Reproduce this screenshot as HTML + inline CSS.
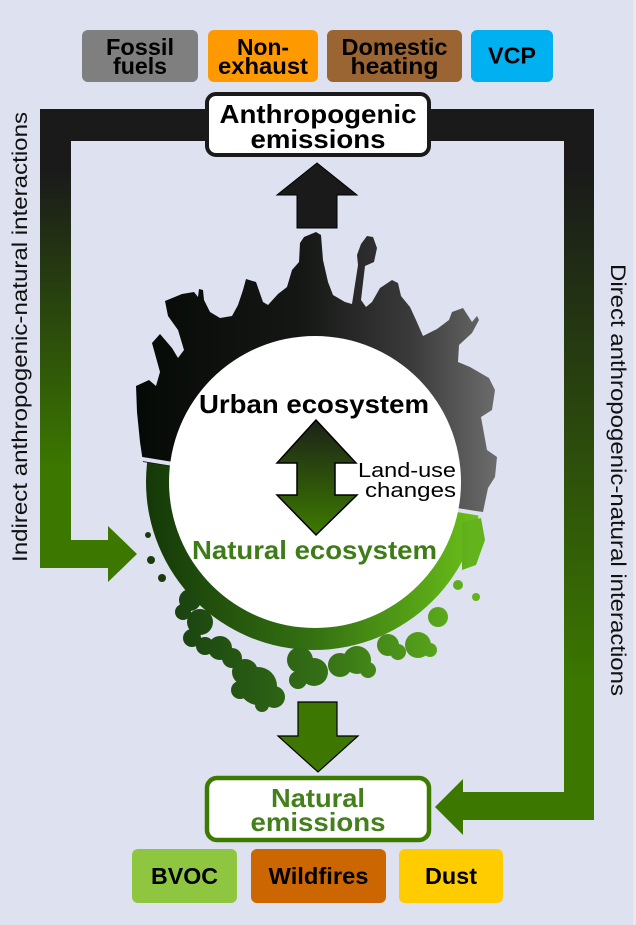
<!DOCTYPE html>
<html><head><meta charset="utf-8">
<style>
html,body{margin:0;padding:0;background:#dee1ef;}
svg{display:block;}
text{font-family:"Liberation Sans",Arial,sans-serif;}
</style></head><body>
<svg width="636" height="925" viewBox="0 0 636 925" xmlns="http://www.w3.org/2000/svg">
<defs>
<linearGradient id="gl" gradientUnits="userSpaceOnUse" x1="0" y1="170" x2="0" y2="470">
<stop offset="0" stop-color="#1a1a1a"/><stop offset="1" stop-color="#3c7800"/></linearGradient>
<linearGradient id="gr" gradientUnits="userSpaceOnUse" x1="0" y1="170" x2="0" y2="690">
<stop offset="0" stop-color="#1a1a1a"/><stop offset="1" stop-color="#3c7800"/></linearGradient>
<linearGradient id="city" gradientUnits="userSpaceOnUse" x1="140" y1="0" x2="500" y2="0">
<stop offset="0" stop-color="#060a06"/><stop offset="0.45" stop-color="#151715"/><stop offset="0.75" stop-color="#3a3a3a"/><stop offset="1" stop-color="#6e6e6e"/></linearGradient>
<linearGradient id="grn" gradientUnits="userSpaceOnUse" x1="145" y1="0" x2="485" y2="0">
<stop offset="0" stop-color="#143808"/><stop offset="0.5" stop-color="#357212"/><stop offset="1" stop-color="#6cc21a"/></linearGradient>
<linearGradient id="tree" gradientUnits="userSpaceOnUse" x1="175" y1="0" x2="470" y2="0">
<stop offset="0" stop-color="#1a4210"/><stop offset="0.5" stop-color="#347016"/><stop offset="1" stop-color="#62b31c"/></linearGradient>
<linearGradient id="dbl" x1="0" y1="0" x2="0" y2="1">
<stop offset="0" stop-color="#1c2218"/><stop offset="1" stop-color="#3d7a00"/></linearGradient>
</defs>
<rect width="636" height="925" fill="#dee1ef"/>
<rect x="633" y="0" width="3" height="925" fill="#e8e9f2"/>

<!-- connectors -->
<path d="M40 109 H318 V141 H71 V540 H108 V526 L137 554 L108 582 V568 H40 Z" fill="url(#gl)"/>
<path d="M318 109 H594 V820 H463 V835 L435 807 L463 779 V792 H564 V141 H318 Z" fill="url(#gr)"/>

<!-- vertical labels -->
<text transform="translate(27,337) rotate(-90)" text-anchor="middle" font-size="21" fill="#111" textLength="450" lengthAdjust="spacingAndGlyphs">Indirect anthropogenic-natural interactions</text>
<text transform="translate(611,480) rotate(90)" text-anchor="middle" font-size="21" fill="#111" textLength="432" lengthAdjust="spacingAndGlyphs">Direct anthropogenic-natural interactions</text>

<!-- top category boxes -->
<rect x="82" y="30" width="116" height="52" rx="6" fill="#7f7f7f"/>
<rect x="208" y="30" width="110" height="52" rx="6" fill="#ff9900"/>
<rect x="327" y="30" width="135" height="52" rx="6" fill="#9a6532"/>
<rect x="471" y="30" width="82" height="52" rx="6" fill="#00b0f0"/>
<g font-size="23" font-weight="bold" fill="#000" text-anchor="middle">
<text x="140" y="55" textLength="68" lengthAdjust="spacingAndGlyphs">Fossil</text>
<text x="140" y="74" textLength="54" lengthAdjust="spacingAndGlyphs">fuels</text>
<text x="263" y="55" textLength="52" lengthAdjust="spacingAndGlyphs">Non-</text>
<text x="263" y="74" textLength="90" lengthAdjust="spacingAndGlyphs">exhaust</text>
<text x="394.5" y="55" textLength="106" lengthAdjust="spacingAndGlyphs">Domestic</text>
<text x="394.5" y="74" textLength="88" lengthAdjust="spacingAndGlyphs">heating</text>
<text x="512" y="63.5" textLength="48" lengthAdjust="spacingAndGlyphs">VCP</text>
</g>

<!-- anthropogenic box -->
<rect x="207" y="94" width="222" height="61" rx="9" fill="#fff" stroke="#1a1a1a" stroke-width="4"/>
<g font-size="26" font-weight="bold" fill="#000" text-anchor="middle">
<text x="318" y="123" textLength="197" lengthAdjust="spacingAndGlyphs">Anthropogenic</text>
<text x="318" y="148" textLength="135" lengthAdjust="spacingAndGlyphs">emissions</text>
</g>

<!-- up arrow -->
<path d="M297 228 V195 H277 L317 163 L357 195 H337 V228 Z" fill="#1a1a1a" stroke="#000" stroke-width="1"/>

<!-- globe: green ring -->
<circle cx="314" cy="482" r="168" fill="url(#grn)"/>
<!-- trees -->
<g fill="url(#tree)">
<circle cx="190" cy="600" r="11"/>
<circle cx="183" cy="612" r="8"/>
<circle cx="200" cy="622" r="13"/>
<circle cx="192" cy="638" r="9"/>
<circle cx="205" cy="646" r="9"/>
<circle cx="220" cy="648" r="12"/>
<circle cx="232" cy="658" r="10"/>
<circle cx="245" cy="672" r="13"/>
<circle cx="258" cy="686" r="19"/>
<circle cx="240" cy="690" r="9"/>
<circle cx="274" cy="697" r="11"/>
<circle cx="262" cy="705" r="7"/>
<circle cx="300" cy="660" r="13"/>
<circle cx="314" cy="672" r="14"/>
<circle cx="298" cy="680" r="9"/>
<circle cx="340" cy="665" r="12"/>
<circle cx="357" cy="660" r="14"/>
<circle cx="368" cy="670" r="8"/>
<circle cx="388" cy="645" r="11"/>
<circle cx="398" cy="652" r="8"/>
<circle cx="418" cy="645" r="13"/>
<circle cx="430" cy="650" r="7"/>
<circle cx="438" cy="617" r="10"/>
<circle cx="458" cy="585" r="5"/>
<circle cx="476" cy="597" r="4"/>
<path d="M462 522 L481 518 L485 540 L476 565 L462 570 Z"/>
</g>
<g fill="#1a3a0e">
<circle cx="148" cy="535" r="3"/>
<circle cx="151" cy="560" r="4"/>
<circle cx="162" cy="578" r="4"/>
</g>
<!-- city skyline (dark upper ring) -->
<path fill="url(#city)" d="M143 462 L140 442 L137 412 L136 386 L149 380 L156 386 L160 372 L152 343 L160 334 L172 348 L178 358 L184 350 L178 330 L168 316 L165 301 L182 294 L194 292 L198 297 L199 289 L203 290 L204 300 L210 312 L220 318 L232 316 L238 305 L243 290 L246 279 L256 282 L263 302 L268 305 L278 294 L287 287 L292 270 L299 262 L300 243 L304 237 L316 232 L321 235 L323 260 L328 282 L333 295 L345 302 L352 304 L358 265 L357 255 L361 244 L367 236 L373 237 L377 248 L374 262 L365 266 L361 300 L366 307 L372 302 L380 288 L392 280 L398 283 L401 296 L410 307 L416 320 L423 336 L437 329 L449 320 L452 312 L463 308 L472 322 L477 316 L479 320 L472 333 L459 345 L458 362 L470 367 L489 378 L495 390 L492 410 L481 417 L483 428 L487 450 L497 457 L495 477 L488 488 L483 512 Z"/>
<line x1="136" y1="458" x2="494" y2="516" stroke="#dee1ef" stroke-width="4"/>
<!-- white circle -->
<circle cx="315" cy="482" r="146" fill="#fff"/>

<!-- inner texts -->
<text x="314" y="413" font-size="26" font-weight="bold" fill="#000" text-anchor="middle" textLength="230" lengthAdjust="spacingAndGlyphs">Urban ecosystem</text>
<path d="M316 420 L356 463 H335 V495 H357 L316 535 L277 495 H297 V463 H277 Z" fill="url(#dbl)" stroke="#000" stroke-width="1.5"/>
<text x="407" y="477" font-size="20" fill="#000" text-anchor="middle" textLength="98" lengthAdjust="spacingAndGlyphs">Land-use</text>
<text x="410.5" y="497" font-size="20" fill="#000" text-anchor="middle" textLength="91" lengthAdjust="spacingAndGlyphs">changes</text>
<text x="314.5" y="559" font-size="26" font-weight="bold" fill="#3e7c17" text-anchor="middle" textLength="245" lengthAdjust="spacingAndGlyphs">Natural ecosystem</text>

<!-- down arrow -->
<path d="M298 702 H337 V736 H358 L318 772 L278 736 H298 Z" fill="#3d7600" stroke="#000" stroke-width="1.2"/>

<!-- natural emissions box -->
<rect x="207" y="778" width="222" height="62" rx="10" fill="#fff" stroke="#3d7a00" stroke-width="4.5"/>
<g font-size="26" font-weight="bold" fill="#43801c" text-anchor="middle">
<text x="318" y="807" textLength="94" lengthAdjust="spacingAndGlyphs">Natural</text>
<text x="318" y="831" textLength="135" lengthAdjust="spacingAndGlyphs">emissions</text>
</g>

<!-- bottom category boxes -->
<rect x="132" y="849" width="105" height="54" rx="6" fill="#8fc640"/>
<rect x="251" y="849" width="135" height="54" rx="6" fill="#cc6600"/>
<rect x="399" y="849" width="104" height="54" rx="6" fill="#ffcc00"/>
<g font-size="23" font-weight="bold" fill="#000" text-anchor="middle">
<text x="184.5" y="884" textLength="67" lengthAdjust="spacingAndGlyphs">BVOC</text>
<text x="318.5" y="884" textLength="100" lengthAdjust="spacingAndGlyphs">Wildfires</text>
<text x="451" y="884" textLength="52" lengthAdjust="spacingAndGlyphs">Dust</text>
</g>
</svg>
</body></html>
